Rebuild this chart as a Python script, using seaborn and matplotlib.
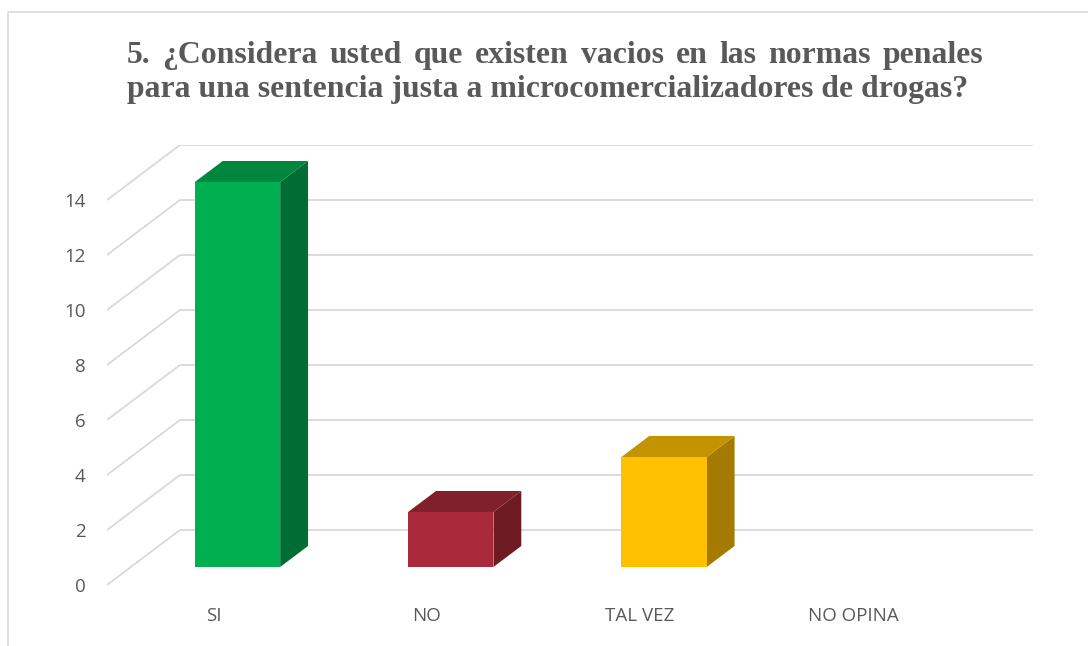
import matplotlib
matplotlib.use('Agg')
import matplotlib.pyplot as plt
import seaborn as sns
import numpy as np
import pandas as pd
from matplotlib.patches import Polygon, Rectangle

# data
categories = ['SI', 'NO', 'TAL VEZ', 'NO OPINA']
counts = [14, 2, 4, 0]
y_ticks = [0, 2, 4, 6, 8, 10, 12, 14]
title_line1 = '5. ¿Considera usted que existen vacios en las normas penales'
title_line2 = 'para una sentencia justa a microcomercializadores de drogas?'

front_colors = ['#00B050', '#A9293A', '#FFC000', '#7F7F7F']
top_colors = ['#00873E', '#80202A', '#C49300', '#606060']
side_colors = ['#006E32', '#6E1B24', '#A47B00', '#505050']

W, H = 1088, 646
GRID = '#D9D9D9'
TXT = '#595959'

# oblique "3D" projection: depth 0 = floor front, 1 = back wall
DX, DY = 0.342, 2.0          # category units, value units
D_FRONT, D_DEPTH = 0.3275, 0.382

sns.set_theme(style='white')
plt.rcParams['font.family'] = ['Open Sans', 'DejaVu Sans']

fig = plt.figure(figsize=(W / 100, H / 100), dpi=100)
ax = fig.add_axes([107 / W, (H - 585) / H, (1033 - 107) / W, (585 - 145) / H])

df = pd.DataFrame({'cat': categories, 'n': counts})
sns.barplot(data=df, x='cat', y='n', hue='cat', palette=front_colors,
            width=0.4, legend=False, ax=ax, saturation=1, zorder=5,
            linewidth=0)

ax.set_xlim(-0.5, len(categories) - 0.5 + DX)
ax.set_ylim(0, max(y_ticks) + DY)
for s in ax.spines.values():
    s.set_visible(False)

# walls: left diagonals + back horizontals
x_left = -0.5
x_right = len(categories) - 0.5
for v in y_ticks:
    ax.plot([x_left, x_left + DX], [v, v + DY], color=GRID, lw=1.3,
            zorder=1, solid_capstyle='butt')
    ax.plot([x_left + DX, x_right + DX], [v + DY, v + DY], color=GRID,
            lw=1.3, zorder=1, solid_capstyle='butt')

# push the front faces to their depth and add top / side faces
ox, oy = D_FRONT * DX, D_FRONT * DY
ddx, ddy = D_DEPTH * DX, D_DEPTH * DY
for i, p in enumerate(ax.patches):
    h = p.get_height()
    if h <= 0:
        p.set_visible(False)
        continue
    p.set_x(p.get_x() + ox)
    p.set_y(oy)
    x0, x1 = p.get_x(), p.get_x() + p.get_width()
    y0, y1 = oy, oy + h
    side = Polygon([(x1, y0), (x1 + ddx, y0 + ddy), (x1 + ddx, y1 + ddy),
                    (x1, y1)], closed=True, facecolor=side_colors[i],
                   edgecolor='none', zorder=4)
    top = Polygon([(x0, y1), (x1, y1), (x1 + ddx, y1 + ddy),
                   (x0 + ddx, y1 + ddy)], closed=True,
                  facecolor=top_colors[i], edgecolor='none', zorder=4)
    ax.add_patch(side)
    ax.add_patch(top)

ax.set_yticks(y_ticks)
ax.set_yticklabels([str(v) for v in y_ticks])
ax.set_xlabel('')
ax.set_ylabel('')
ax.tick_params(axis='y', length=0, pad=15.5, labelsize=13.5, labelcolor=TXT)
ax.tick_params(axis='x', length=0, pad=16, labelsize=13.5, labelcolor=TXT)
ax.grid(False)

# chart frame
fig.add_artist(Rectangle((8 / W, -0.1), 1.2, 1 - 12 / H + 0.1,
                         transform=fig.transFigure, fill=False,
                         edgecolor=GRID, lw=1.2))

# title, serif bold, first line justified
fig.canvas.draw()
r = fig.canvas.get_renderer()
tkw = dict(family='Liberation Serif', weight='bold', color=TXT, va='baseline',
           ha='left')
probe = fig.text(0, 0, title_line2, fontsize=20, **tkw)
w2 = probe.get_window_extent(r).width
fs = 20 * (968 - 127) / w2
probe.remove()
fig.text(127 / W, 1 - 97 / H, title_line2, fontsize=fs, **tkw)

words = title_line1.split()
wtexts = [fig.text(0, 1 - 63 / H, w, fontsize=fs, **tkw) for w in words]
widths = [t.get_window_extent(r).width for t in wtexts]
gap = (983 - 127 - sum(widths)) / (len(words) - 1)
xpos = 127
for t, w in zip(wtexts, widths):
    t.set_x(xpos / W)
    xpos += w + gap

fig.savefig('out.png', dpi=100, facecolor='white')
